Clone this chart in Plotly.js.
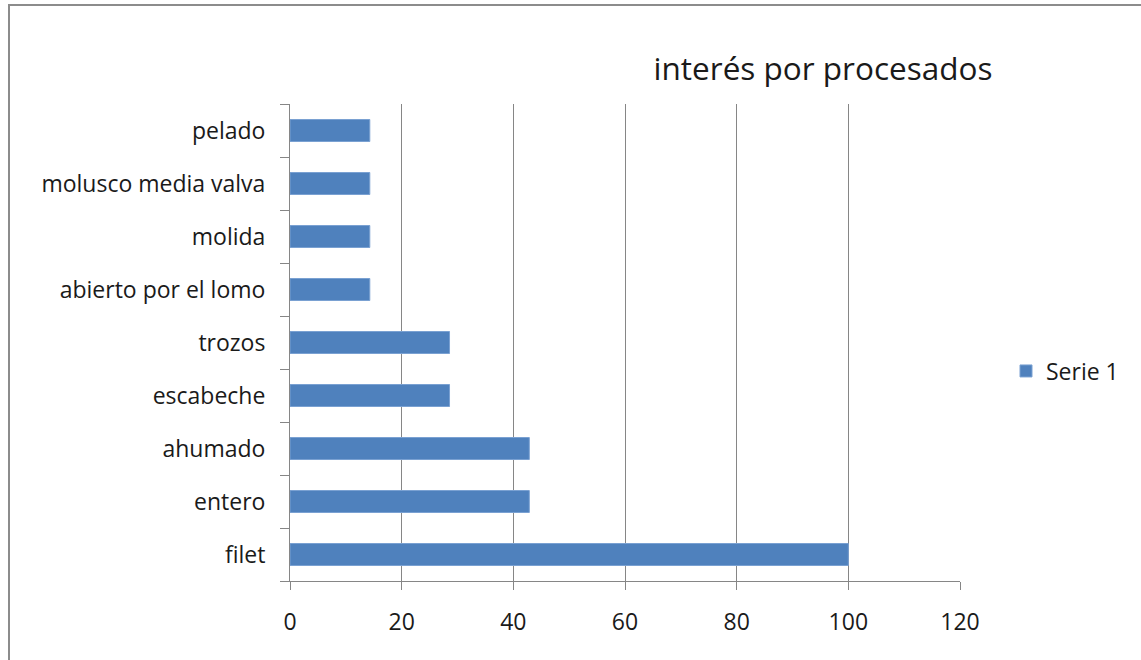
<!DOCTYPE html>
<html>
<head>
<meta charset="utf-8">
<script src="https://cdn.plot.ly/plotly-3.0.1.min.js"></script>
<style>
html,body{margin:0;padding:0;background:#fff;}
#wrap{position:relative;width:1141px;height:660px;}
#chart{width:1141px;height:660px;}
#frame{position:absolute;left:8px;top:4px;width:1141px;height:660px;border-top:2px solid #8c8c8c;border-left:2px solid #8c8c8c;pointer-events:none;}
</style>
</head>
<body>
<div id="wrap"><div id="chart"></div><div id="frame"></div></div>
<script>
const categories = ["filet","entero","ahumado","escabeche","trozos","abierto por el lomo","molida","molusco media valva","pelado"];
const serie1 = [100, 42.86, 42.86, 28.57, 28.57, 14.29, 14.29, 14.29, 14.29];
const xTicks = [0,20,40,60,80,100,120];
const seriesName = "Serie 1";
const chartTitle = "interés por procesados";

const fontFam = "'Open Sans', sans-serif";
const trace = {
  type: 'bar', orientation: 'h',
  y: categories, x: serie1, name: seriesName,
  marker: {color: '#4F81BD', line: {color: '#7aa1d2', width: 1}},
  showlegend: true, hoverinfo: 'x+y'
};
const layout = {
  width: 1141, height: 660,
  margin: {l: 290, r: 181, t: 104, b: 79},
  paper_bgcolor: '#fff', plot_bgcolor: '#fff',
  font: {family: fontFam, color: '#1a1a1a', size: 23},
  title: {text: chartTitle, font: {family: fontFam, size: 31.5, color: '#1a1a1a'},
          x: 823/1141, xanchor: 'center', y: 1-69/660, yanchor: 'middle'},
  bargap: 0.585,
  xaxis: {range: [0,120], tickvals: xTicks, ticktext: xTicks.map(String),
          showgrid: true, gridcolor: '#868686', gridwidth: 1,
          showline: true, linecolor: '#868686', linewidth: 1,
          ticks: 'outside', ticklen: 8, tickcolor: '#868686',
          ticklabelstandoff: 12, tickfont: {size: 23, family: fontFam, color: '#1a1a1a'},
          zeroline: false, fixedrange: true},
  yaxis: {type: 'category', tickson: 'boundaries', ticks: 'outside', ticklen: 9, tickcolor: '#868686',
          showline: true, linecolor: '#868686', linewidth: 1, showgrid: false,
          ticklabelstandoff: 19, tickfont: {size: 23, family: fontFam, color: '#1a1a1a'},
          fixedrange: true},
  legend: {x: (1006-290)/670, xanchor: 'left', y: (581-371)/477, yanchor: 'middle',
           font: {size: 23, family: fontFam, color: '#1a1a1a'}, bgcolor: 'rgba(0,0,0,0)'}
};
Plotly.newPlot('chart', [trace], layout, {displayModeBar: false, staticPlot: true});
</script>
</body>
</html>
